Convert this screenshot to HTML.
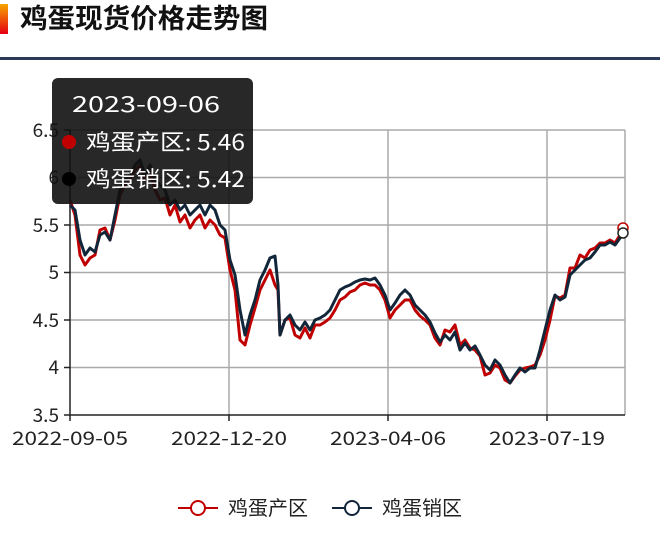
<!DOCTYPE html><html><head><meta charset="utf-8"><style>
body{margin:0;width:660px;height:539px;background:#fff;overflow:hidden}
</style></head><body>
<svg width="660" height="539" xmlns="http://www.w3.org/2000/svg" style="position:absolute;left:0;top:0" font-family="Noto Sans CJK SC, sans-serif">
<defs><linearGradient id="g" x1="0" y1="0" x2="0" y2="1"><stop offset="0" stop-color="#f7a600"/><stop offset="1" stop-color="#e60012"/></linearGradient></defs>
<rect x="0" y="4" width="8" height="30" fill="url(#g)"/>
<text x="20" y="28" font-size="27" font-weight="bold" fill="#111" textLength="248" lengthAdjust="spacingAndGlyphs">鸡蛋现货价格走势图</text>
<rect x="0" y="57" width="660" height="3" fill="#2b3a5a"/>
<g stroke="#aaa" stroke-width="1.5">
<line x1="70" y1="130" x2="625" y2="130"/><line x1="70" y1="177.5" x2="625" y2="177.5"/><line x1="70" y1="225" x2="625" y2="225"/><line x1="70" y1="272.5" x2="625" y2="272.5"/><line x1="70" y1="320" x2="625" y2="320"/><line x1="70" y1="367.5" x2="625" y2="367.5"/>
<line x1="229" y1="130" x2="229" y2="415"/><line x1="388" y1="130" x2="388" y2="415"/><line x1="547" y1="130" x2="547" y2="415"/><line x1="625" y1="130" x2="625" y2="415"/>
</g>
<g stroke="#222" stroke-width="1.5"><line x1="70" y1="130" x2="70" y2="415"/><line x1="70" y1="415" x2="625" y2="415"/>
<line x1="64" y1="130" x2="70" y2="130"/><line x1="64" y1="177.5" x2="70" y2="177.5"/><line x1="64" y1="225" x2="70" y2="225"/><line x1="64" y1="272.5" x2="70" y2="272.5"/><line x1="64" y1="320" x2="70" y2="320"/><line x1="64" y1="367.5" x2="70" y2="367.5"/><line x1="64" y1="415" x2="70" y2="415"/>
<line x1="70" y1="415" x2="70" y2="421"/><line x1="229" y1="415" x2="229" y2="421"/><line x1="388" y1="415" x2="388" y2="421"/><line x1="547" y1="415" x2="547" y2="421"/></g>
<g font-size="19" fill="#222" text-anchor="end">
<text x="59" y="137">6.5</text><text x="59" y="184">6</text><text x="59" y="232">5.5</text><text x="59" y="279">5</text><text x="59" y="327">4.5</text><text x="59" y="374">4</text><text x="59" y="422">3.5</text></g>
<g font-size="19" fill="#222">
<text x="12" y="445" textLength="116" lengthAdjust="spacingAndGlyphs">2022-09-05</text><text x="171" y="445" textLength="116" lengthAdjust="spacingAndGlyphs">2022-12-20</text><text x="330" y="445" textLength="116" lengthAdjust="spacingAndGlyphs">2023-04-06</text><text x="489" y="445" textLength="116" lengthAdjust="spacingAndGlyphs">2023-07-19</text></g>
<polyline fill="none" stroke="#c00000" stroke-width="3" stroke-linejoin="round" points="70,200 75,215 80,255 85,265 90,258 95,255 100,230 105,228 110,240 115,220 120,195 125,185 130,180 135,170 140,165 145,180 150,172 155,190 160,200 165,198 170,215 175,205 180,222 185,215 190,228 195,220 200,215 205,228 210,220 215,225 220,235 225,238 230,270 235,290 240,340 245,345 250,325 255,308 260,290 265,280 270,270 275,285 278,290 280,335 285,320 290,318 295,335 300,338 305,328 310,338 315,325 320,325 325,322 330,318 335,310 340,300 345,297 350,292 355,290 360,285 365,283 370,285 375,285 380,290 385,300 390,318 395,310 400,305 405,300 410,300 415,310 420,316 425,320 430,325 435,338 440,345 445,330 450,332 455,325 460,345 465,340 470,348 475,350 480,356 485,375 490,373 495,365 500,368 505,380 510,383 515,376 520,370 525,368 530,367 535,365 540,355 545,340 550,320 555,296 560,298 565,295 570,268 575,268 580,255 585,258 590,250 595,248 600,243 605,243 610,240 615,243 620,235 623,228"/>
<polyline fill="none" stroke="#12263a" stroke-width="3" stroke-linejoin="round" points="70,205 75,210 80,240 85,255 90,248 95,252 100,235 105,232 110,240 115,215 120,190 125,180 130,175 135,165 140,160 145,175 150,165 155,180 160,185 165,190 170,205 175,200 180,210 185,205 190,215 195,210 200,205 205,215 210,205 215,210 220,225 225,230 230,260 235,275 240,310 245,335 250,315 255,300 260,280 265,270 270,258 275,256 278,285 280,335 285,320 290,315 295,325 300,330 305,322 310,330 315,320 320,318 325,315 330,310 335,300 340,290 345,287 350,285 355,282 360,280 365,279 370,280 375,278 380,285 385,295 390,310 395,303 400,295 405,290 410,295 415,305 420,310 425,315 430,322 435,333 440,342 445,335 450,340 455,332 460,350 465,343 470,350 475,346 480,355 485,365 490,370 495,360 500,365 505,375 510,383 515,375 520,368 525,372 530,368 535,368 540,350 545,330 550,310 555,295 560,300 565,297 570,275 575,270 580,265 585,260 590,258 595,252 600,245 605,245 610,242 615,245 620,238 623,233"/>
<circle cx="623" cy="228" r="5" fill="#fff" stroke="#c00000" stroke-width="1.5"/>
<circle cx="623" cy="233" r="5" fill="#fff" stroke="#222" stroke-width="1.5"/>
<rect x="52" y="78" width="201" height="126" rx="6" fill="#111" fill-opacity="0.9"/>
<text x="72" y="112" font-size="22" fill="#fff" textLength="148" lengthAdjust="spacingAndGlyphs">2023-09-06</text>
<circle cx="69" cy="142" r="7" fill="#c00000"/>
<circle cx="69" cy="179" r="7" fill="#000"/>
<text x="86" y="150" font-size="22" fill="#fff" textLength="159" lengthAdjust="spacingAndGlyphs">鸡蛋产区: 5.46</text>
<text x="86" y="187" font-size="22" fill="#fff" textLength="159" lengthAdjust="spacingAndGlyphs">鸡蛋销区: 5.42</text>
<line x1="178" y1="508" x2="218" y2="508" stroke="#c00000" stroke-width="2"/><circle cx="198" cy="508" r="7" fill="#fff" stroke="#c00000" stroke-width="2"/>
<text x="228" y="515" font-size="20" fill="#222">鸡蛋产区</text>
<line x1="332" y1="508" x2="372" y2="508" stroke="#12263a" stroke-width="2"/><circle cx="352" cy="508" r="7" fill="#fff" stroke="#12263a" stroke-width="2"/>
<text x="382" y="515" font-size="20" fill="#222">鸡蛋销区</text>
</svg>
</body></html>
